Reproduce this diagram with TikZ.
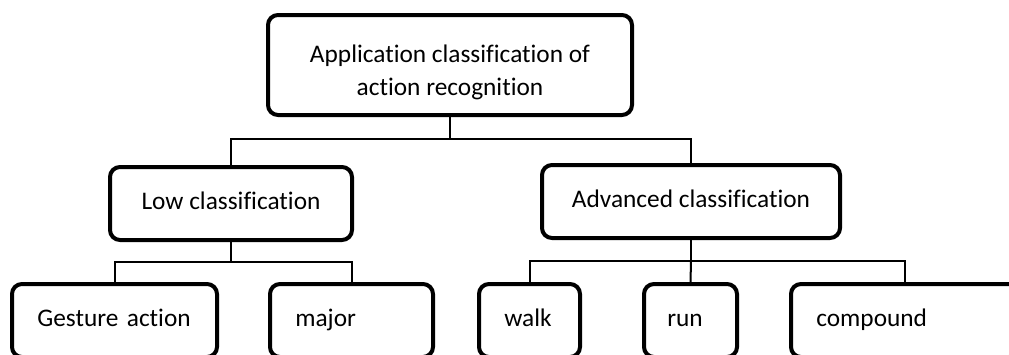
\documentclass[tikz,border=0pt]{standalone}
\usepackage{fontspec}
\setmainfont{Carlito}[Ligatures=NoCommon]
\tikzset{every picture/.style={line width=0.75pt}}
\tikzset{box/.style={draw, line width=3pt, rounded corners=7.5pt, font=\fontsize{19}{24.75}\selectfont},
leaf/.style={box, minimum height=54.75pt, align=left, inner xsep=19pt, text height=13pt, text depth=4pt}}

\begin{document}
\begin{tikzpicture}[x=0.75pt,y=0.75pt,yscale=-1,xscale=1]
\clip (0,0) rectangle (1009,354); %set diagram to the size of the picture
% Rounded Rect
\node [box, minimum width=273pt, minimum height=75pt, align=center] (top) at (450,65) {\rule{0pt}{24pt}Application classification of\\action recognition};
% Rounded Rect
\node [box, minimum width=181.5pt, minimum height=54.75pt, text height=13pt, text depth=4pt] (low) at (231,203.5) {Low classification};
% Rounded Rect
\node [box, minimum width=223.5pt, minimum height=54.75pt, text height=13pt, text depth=4pt] (adv) at (691,201.5) {Advanced classification};
% Rounded Rects
\node [leaf, text width=115.75pt] (gesture) at (114.5,320.5) {\mbox{Gesture action}};
\node [leaf, text width=84.25pt] (major) at (351.5,320.5) {major};
\node [leaf, text width=37.75pt] (walk) at (529.5,320.5) {walk};
\node [leaf, text width=34.75pt, inner xsep=17.5pt] (run) at (690.5,320.5) {run};
\node [leaf, text width=133pt] (compound) at (905,320.5) {compound};
% Connector points
\coordinate (j1) at (450,139);
\coordinate (j2) at (231,262);
\coordinate (j3) at (691,261);
% Straight Lines
\draw [line width=1.5pt] (top.south) -- (j1) -| (low.north);
\draw [line width=1.5pt] (j1) -| (adv.north);
\draw [line width=1.5pt] (low.south) -- (j2) -| (gesture.north);
\draw [line width=1.5pt] (j2) -| (major.north);
\draw [line width=1.5pt] (adv.south) -- (j3) -| (walk.north);
\draw [line width=1.5pt] (j3) -- (run.north);
\draw [line width=1.5pt] (j3) -| (compound.north);
\end{tikzpicture}
\end{document}
